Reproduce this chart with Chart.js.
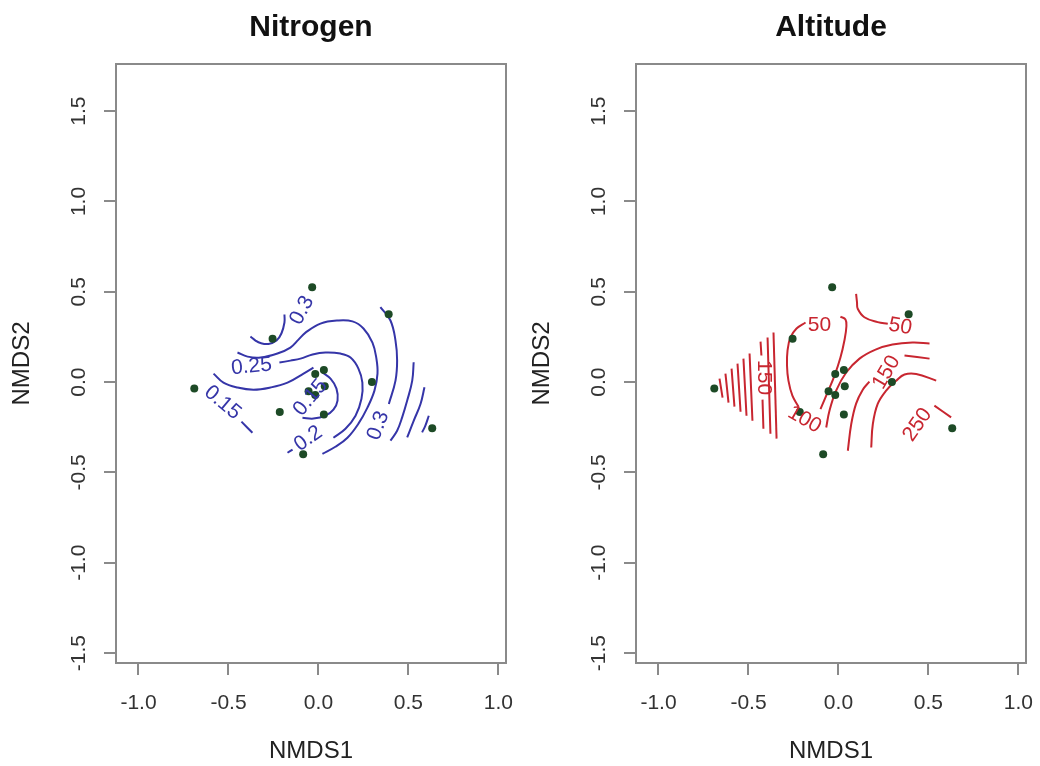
<!DOCTYPE html>
<html><head><meta charset="utf-8">
<script src="https://cdn.jsdelivr.net/npm/chart.js@4.4.1/dist/chart.umd.min.js"></script>
<style>
html,body{margin:0;padding:0;background:#fff}
#wrap{position:relative;width:1040px;height:766px;overflow:hidden}
.pane{position:absolute;top:0;width:520px;height:766px}
</style></head>
<body><div id="wrap">
<div class="pane" style="left:0"><canvas id="c1" width="520" height="766"></canvas></div>
<div class="pane" style="left:520px"><canvas id="c2" width="520" height="766"></canvas></div>
</div>
<script>
// ---------- data ----------
const xTicks = [-1.0, -0.5, 0.0, 0.5, 1.0];
const yTicks = [-1.5, -1.0, -0.5, 0.0, 0.5, 1.0, 1.5];
const xRange = [-1.125, 1.042];
const yRange = [-1.555, 1.761];

const siteX = [-0.035, 0.39, -0.255, -0.018, 0.03, 0.297, -0.69, -0.055, -0.018, 0.035, -0.215, 0.03, 0.632, -0.085];
const siteY = [0.525, 0.375, 0.24, 0.045, 0.067, 0.0, -0.035, -0.05, -0.072, -0.023, -0.165, -0.18, -0.255, -0.4];

// Nitrogen contour lines (NMDS1, NMDS2)
const nitroA = [[-0.378,0.252],[-0.350,0.230],[-0.322,0.216],[-0.278,0.211],[-0.233,0.230],[-0.206,0.269],[-0.189,0.330],[-0.189,0.374]];
const nitroB = [[-0.450,0.164],[-0.394,0.141],[-0.322,0.136],[-0.228,0.158],[-0.156,0.191],[-0.111,0.235],[-0.072,0.274],[0.011,0.324],[0.106,0.341],[0.189,0.336],[0.25,0.297],[0.30,0.219],[0.322,0.130],[0.328,0.047],[0.311,-0.047],[0.272,-0.141],[0.222,-0.230],[0.161,-0.308],[0.094,-0.358],[0.022,-0.397]];
const nitroC = [[-0.217,0.108],[-0.156,0.119],[-0.1,0.130],[-0.033,0.153],[0.039,0.164],[0.122,0.158],[0.178,0.136],[0.222,0.075],[0.244,-0.003],[0.239,-0.092],[0.206,-0.186],[0.150,-0.258],[0.083,-0.308]];
const nitroC2 = [[-0.172,-0.391],[-0.144,-0.374]];
const nitroD = [[-0.583,0.047],[-0.528,-0.003],[-0.450,-0.030],[-0.361,-0.042],[-0.267,-0.030],[-0.172,-0.003],[-0.083,0.047],[-0.028,0.080]];
const nitroE = [[0.022,0.053],[0.067,0.019],[0.1,-0.036],[0.106,-0.102],[0.083,-0.153],[0.039,-0.186],[-0.028,-0.202],[-0.089,-0.197]];
const nitroF = [[-0.428,-0.219],[-0.367,-0.280]];
const nitroR1 = [[0.344,0.415],[0.4,0.341],[0.428,0.230],[0.437,0.119],[0.428,0.008],[0.391,-0.121]];
const nitroR2 = [[0.529,0.110],[0.521,0.008],[0.493,-0.102],[0.465,-0.195],[0.437,-0.269],[0.4,-0.324]];
const nitroR3 = [[0.589,-0.029],[0.567,-0.121],[0.529,-0.214],[0.493,-0.306]];
const nitroR4 = [[0.613,-0.186],[0.594,-0.241],[0.576,-0.278]];
const nitroLabelText = ['0.3', '0.25', '0.15', '0.15', '0.2', '0.3'];
const nitroLabelX = [-0.092, -0.372, -0.533, -0.044, -0.056, 0.333];
const nitroLabelY = [0.397, 0.086, -0.114, -0.086, -0.313, -0.241];
const nitroLabelAngle = [-62, -5, 40, -50, -35, -70];

// Altitude contour lines
const altVL = [[-0.183,0.330],[-0.233,0.297],[-0.267,0.247],[-0.283,0.175],[-0.286,0.092],[-0.278,0.008],[-0.256,-0.075],[-0.222,-0.136]];
const altVR = [[-0.1,-0.150],[-0.061,-0.058],[-0.022,0.036],[0.011,0.136],[0.033,0.230],[0.044,0.308],[0.039,0.347],[0.011,0.363]];
const altHook = [[0.098,0.489],[0.103,0.441],[0.107,0.406],[0.144,0.359],[0.218,0.332],[0.274,0.323]];
const altAlpha = [[-0.068,-0.251],[-0.05,-0.158],[-0.013,-0.047],[0.043,0.053],[0.117,0.130],[0.206,0.180],[0.3,0.208],[0.411,0.219],[0.506,0.214]];
const altBeta1 = [[0.052,-0.380],[0.071,-0.232],[0.098,-0.119],[0.135,-0.042],[0.172,0.003]];
const altBeta2 = [[0.367,0.147],[0.506,0.130]];
const altGamma = [[0.182,-0.362],[0.191,-0.232],[0.218,-0.121],[0.265,-0.047],[0.321,0.008],[0.367,0.042],[0.432,0.045],[0.543,0.008]];
const altTail = [[0.533,-0.130],[0.626,-0.195]];
const altF1 = [[-0.661,0.019],[-0.644,-0.086]];
const altF2 = [[-0.628,0.047],[-0.611,-0.114]];
const altF3 = [[-0.594,0.075],[-0.578,-0.136]];
const altF4 = [[-0.561,0.102],[-0.544,-0.164]];
const altF5 = [[-0.528,0.130],[-0.511,-0.186]];
const altF6 = [[-0.494,0.158],[-0.478,-0.214]];
const altF7a = [[-0.433,0.224],[-0.428,0.147]];
const altF7b = [[-0.422,-0.097],[-0.417,-0.258]];
const altF8 = [[-0.394,0.247],[-0.378,-0.286]];
const altF9 = [[-0.361,0.275],[-0.344,-0.313]];
const altLabelText = ['50', '150', '100', '50', '150', '250'];
const altLabelX = [-0.106, -0.417, -0.189, 0.344, 0.267, 0.439];
const altLabelY = [0.316, 0.025, -0.208, 0.308, 0.053, -0.236];
const altLabelAngle = [0, 90, 30, 10, -60, -55];

// ---------- drawing ----------
const FONT = '"Liberation Sans", Arial, Helvetica, sans-serif';
const AXIS_GREY = '#8a8a8a';

const framePlugin = {
  id: 'frame',
  afterDraw(chart) {
    const {ctx, chartArea: a} = chart;
    ctx.save();
    ctx.strokeStyle = AXIS_GREY;
    ctx.lineWidth = 2;
    ctx.strokeRect(a.left, a.top, a.right - a.left, a.bottom - a.top);
    ctx.restore();
  }
};

const contourLabelPlugin = {
  id: 'contourLabels',
  afterDatasetsDraw(chart, args, opts) {
    const {ctx, scales: {x, y}} = chart;
    ctx.save();
    ctx.fillStyle = opts.color;
    ctx.font = '21px ' + FONT;
    ctx.textAlign = 'center';
    ctx.textBaseline = 'middle';
    opts.text.forEach((t, i) => {
      ctx.save();
      ctx.translate(x.getPixelForValue(opts.xs[i]), y.getPixelForValue(opts.ys[i]));
      ctx.rotate(opts.angles[i] * Math.PI / 180);
      ctx.fillText(t, 0, 0);
      ctx.restore();
    });
    ctx.restore();
  }
};

function lineSet(pairs, color) {
  return {
    type: 'scatter',
    data: pairs.map(p => ({x: p[0], y: p[1]})),
    showLine: true,
    borderColor: color,
    borderWidth: 2,
    pointRadius: 0,
    tension: 0.4,
    fill: false
  };
}

function makePanel(id, title, color, lines, lt, lx, ly, la) {
  const datasets = [{
    type: 'scatter',
    data: siteX.map((v, i) => ({x: v, y: siteY[i]})),
    pointRadius: 4,
    pointBackgroundColor: '#1d4a26',
    pointBorderColor: '#1d4a26',
    pointBorderWidth: 0,
    showLine: false
  }].concat(lines.map(l => lineSet(l, color)));

  return new Chart(document.getElementById(id), {
    type: 'scatter',
    data: {datasets},
    plugins: [framePlugin, contourLabelPlugin],
    options: {
      responsive: false,
      animation: false,
      layout: {padding: {left: 0, right: 14, top: 0, bottom: 0}},
      plugins: {
        legend: {display: false},
        tooltip: {enabled: false},
        title: {
          display: true, text: title, fullSize: false, color: '#111',
          font: {family: FONT, size: 30, weight: 'bold'},
          padding: {top: 10, bottom: 18}
        },
        contourLabels: {color, text: lt, xs: lx, ys: ly, angles: la}
      },
      scales: {
        x: {
          type: 'linear', min: xRange[0], max: xRange[1],
          afterBuildTicks: s => { s.ticks = xTicks.map(v => ({value: v})); },
          afterFit: s => { s.height = 103; s.paddingLeft = 0; s.paddingRight = 0; },
          ticks: {font: {family: FONT, size: 21}, color: '#333', padding: 16,
                  callback: v => v.toFixed(1), maxRotation: 0, autoSkip: false},
          grid: {drawOnChartArea: false, drawTicks: true, tickLength: 12, color: AXIS_GREY, lineWidth: 2},
          border: {display: true, color: AXIS_GREY, width: 2},
          title: {display: true, text: 'NMDS1', color: '#222',
                  font: {family: FONT, size: 24}, padding: {top: 0, bottom: 0}}
        },
        y: {
          type: 'linear', min: yRange[0], max: yRange[1],
          afterBuildTicks: s => { s.ticks = yTicks.map(v => ({value: v})); },
          afterFit: s => { s.width = 116; s.paddingTop = 0; s.paddingBottom = 0; },
          ticks: {font: {family: FONT, size: 21}, color: '#333', padding: 7,
                  minRotation: 90, maxRotation: 90, crossAlign: 'center',
                  callback: v => v.toFixed(1), autoSkip: false},
          grid: {drawOnChartArea: false, drawTicks: true, tickLength: 12, color: AXIS_GREY, lineWidth: 2},
          border: {display: true, color: AXIS_GREY, width: 2},
          title: {display: true, text: 'NMDS2', color: '#222',
                  font: {family: FONT, size: 24}, padding: {top: 8, bottom: 0}}
        }
      }
    }
  });
}

const BLUE = '#3535a8';
const RED = '#c82630';

makePanel('c1', 'Nitrogen', BLUE,
  [nitroA, nitroB, nitroC, nitroC2, nitroD, nitroE, nitroF, nitroR1, nitroR2, nitroR3, nitroR4],
  nitroLabelText, nitroLabelX, nitroLabelY, nitroLabelAngle);

makePanel('c2', 'Altitude', RED,
  [altVL, altVR, altHook, altAlpha, altBeta1, altBeta2, altGamma, altTail,
   altF1, altF2, altF3, altF4, altF5, altF6, altF7a, altF7b, altF8, altF9],
  altLabelText, altLabelX, altLabelY, altLabelAngle);
</script>
</body></html>
